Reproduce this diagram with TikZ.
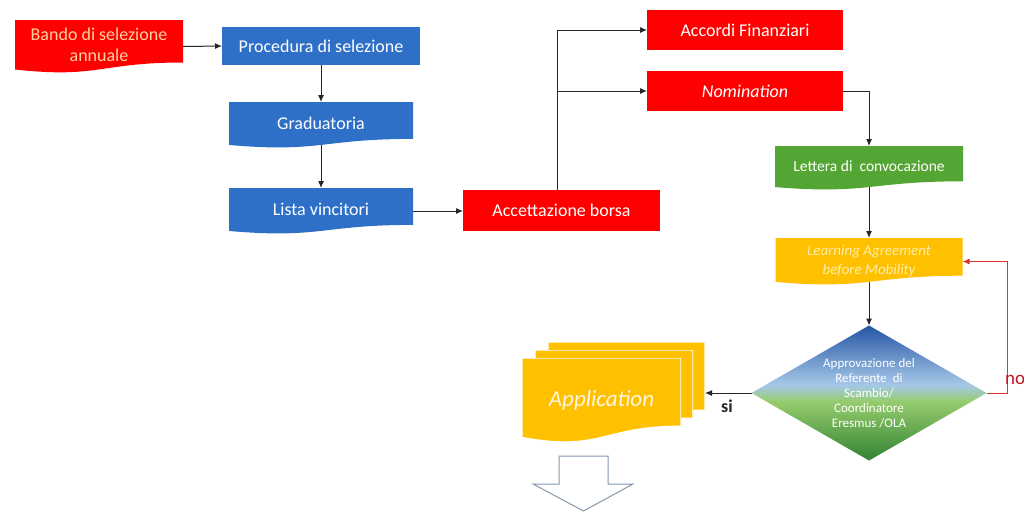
\documentclass[tikz,border=0pt]{standalone}
\usepackage{fontspec}
\setmainfont{Carlito}
\usetikzlibrary{arrows.meta,shapes.geometric,calc}
\definecolor{cred}{RGB}{255,0,0}
\definecolor{cblue}{RGB}{46,112,200}
\definecolor{cgreen}{RGB}{84,166,52}
\definecolor{cyel}{RGB}{255,192,0}
\definecolor{bandotext}{RGB}{255,210,160}
\definecolor{learntext}{RGB}{255,238,170}
\definecolor{apptext}{RGB}{255,246,225}
\definecolor{fbred}{RGB}{220,50,50}
\definecolor{notext}{RGB}{195,20,30}
\definecolor{arrowgray}{RGB}{132,151,176}
\definecolor{dtop}{RGB}{38,85,165}
\definecolor{dlblue}{RGB}{165,200,232}
\definecolor{dlgreen}{RGB}{150,205,110}
\definecolor{dbot}{RGB}{50,130,50}
\pgfdeclareverticalshading{decshade}{100bp}{color(0bp)=(dbot); color(25bp)=(dbot); color(47bp)=(dlgreen); color(53bp)=(dlblue); color(75bp)=(dtop); color(100bp)=(dtop)}
\newcommand\mainsz{\fontsize{18}{21.5}\selectfont}
\newcommand\lettsz{\fontsize{15.5}{18}\selectfont}
\newcommand\learnsz{\fontsize{15}{19}\selectfont}
\newcommand\decsz{\fontsize{13}{15}\selectfont}
\newcommand\appsz{\fontsize{23}{27}\selectfont}
\tikzset{
  docshape/.style={path picture={
    \path[#1] let \p1=(path picture bounding box.south west),
                 \p2=(path picture bounding box.north east),
                 \n1={\y2-\y1}, \n2={(\x1+\x2)/2} in
      (\x1,\y2) -- (\x2,\y2) -- ({\x2},{\y2-0.802*\n1})
      .. controls ({\n2},{\y2-0.802*\n1}) and ({\n2},{\y2-1.107*\n1}) .. ({\x1},{\y2-0.934*\n1}) -- cycle;
  }},
  box/.style={rectangle, inner sep=0pt, outer sep=0pt, align=center},
  conn/.style={draw=black!85, line width=1pt, -{Latex[length=7pt,width=6pt]}},
  docout/.style={shorten <=-3pt},
  fback/.style={draw=fbred, line width=1pt, -{Latex[length=7pt,width=6pt]}},
}
\begin{document}
\begin{tikzpicture}[x=1pt,y=-1pt]
\useasboundingbox (0,0) rectangle (1024,512);
\fill[white] (0,0) rectangle (1024,512);
\clip (0,0) rectangle (1024,512);

% left column
\node[box, docshape={fill=cred}, minimum width=168pt, minimum height=53pt, text=bandotext, font=\mainsz] (bando) at (99,46.5)
  {\raisebox{5pt}{\begin{tabular}{@{}c@{}}Bando di selezione\\annuale\end{tabular}}};
\node[box, fill=cblue, minimum width=198pt, minimum height=38pt, text=white, font=\mainsz] (proc) at (321,46) {Procedura di selezione};
\node[box, docshape={fill=cblue}, minimum width=184pt, minimum height=46pt, text=white, font=\mainsz] (grad) at (321,125) {\raisebox{4pt}{Graduatoria}};
\node[box, docshape={fill=cblue}, minimum width=184pt, minimum height=46pt, text=white, font=\mainsz] (lista) at (321,211) {\raisebox{4pt}{Lista vincitori}};

% red boxes
\node[box, fill=cred, minimum width=197pt, minimum height=41pt, text=white, font=\mainsz] (acc) at (561.5,210.5) {Accettazione borsa};
\node[box, fill=cred, minimum width=196pt, minimum height=40pt, text=white, font=\mainsz] (accordi) at (745,30) {Accordi Finanziari};
\node[box, fill=cred, minimum width=196pt, minimum height=40pt, text=white, font=\mainsz\itshape] (nom) at (745,91) {Nomination};

% right column
\node[box, docshape={fill=cgreen}, minimum width=188pt, minimum height=44pt, text=white, font=\lettsz] (lett) at (869,168) {\raisebox{4pt}{Lettera di\ \ convocazione}};
\node[box, docshape={fill=cyel}, minimum width=187pt, minimum height=47pt, text=learntext, font=\learnsz\itshape] (learn) at (869,261.5)
  {\raisebox{4pt}{\begin{tabular}{@{}c@{}}Learning Agreement\\before Mobility\end{tabular}}};
\node[diamond, aspect=1.75, inner sep=0pt, outer sep=0pt, minimum width=235pt, minimum height=135pt, shading=decshade, text=white, align=center, font=\decsz] (dec) at (869,393)
  {Approvazione del\\Referente\ \ di\\Scambio/\\Coordinatore\\Eresmus /OLA};

% application multi-document
\node[box, docshape={fill=cyel, draw=white, line width=1.2pt}, minimum width=157pt, minimum height=85pt] (appback) at (626.5,384.5) {};
\node[box, docshape={fill=cyel, draw=white, line width=1.2pt}, minimum width=158pt, minimum height=85pt] (appmid) at (614,392.5) {};
\node[box, docshape={fill=cyel, draw=white, line width=1.2pt}, minimum width=159pt, minimum height=85pt, text=apptext, font=\appsz\itshape] (app) at (601.5,400.5) {\raisebox{3pt}{Application}};

% down block arrow
\draw[arrowgray, line width=1pt, fill=white, line join=miter] (559,456) -- (608,456) -- (608,484) -- (633,484) -- (583.5,511) -- (533,484) -- (559,484) -- cycle;

% connectors
\draw[conn] (bando.east) -- (proc.west);
\draw[conn] (proc.south) -- (grad.north);
\draw[conn, docout] (grad.south) -- (lista.north);
\draw[conn] (lista.east) -- (lista.east -| acc.west);
\coordinate (split) at ($(acc.north)+(-4.5,0)$);
\draw[conn] (split) |- (accordi.west);
\draw[conn] (split) |- (nom.west);
\draw[conn] (nom.east) -| (lett.north);
\draw[conn, docout] (lett.south) -- (learn.north);
\draw[conn, docout] (learn.south) -- (dec.north);
\draw[conn] (dec.west) -- (dec.west -| appback.east);
\draw[fback] (dec.east) -- ++(21,0) |- (learn.east);

% labels
\node[font=\fontsize{18}{21}\selectfont\bfseries, text=black!85] (si) at (727,406) {si};
\node[font=\fontsize{19}{22}\selectfont, text=notext, anchor=west, inner sep=0pt] (no) at (1005,380) {no};
\end{tikzpicture}
\end{document}
